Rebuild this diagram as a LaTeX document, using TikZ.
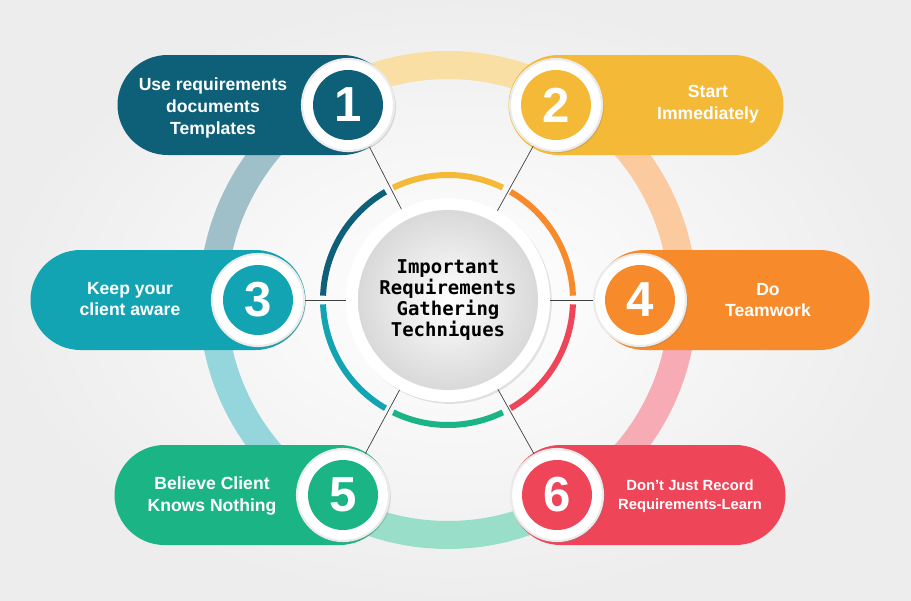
\documentclass[tikz,border=0pt]{standalone}
\usepackage{fontspec}
\setmainfont{Liberation Sans}
\newfontfamily\hubfont{DejaVu Sans Mono}
\usetikzlibrary{positioning, calc, shadings, shadows}

\definecolor{cOne}{HTML}{0E5F78}
\definecolor{cTwo}{HTML}{F4B937}
\definecolor{cThree}{HTML}{13A4B4}
\definecolor{cFour}{HTML}{F78A2A}
\definecolor{cFive}{HTML}{1BB585}
\definecolor{cSix}{HTML}{EE4558}

\tikzset{
  pill/.style={fill=#1, rounded corners=2.5cm, minimum width=13.75cm, minimum height=5cm, inner sep=0},
  numring/.style={circle, fill=white, draw=black!8, line width=3pt, minimum size=4.6cm, inner sep=0, drop shadow={opacity=.25}},
  numdot/.style={circle, fill=#1, minimum size=3.5cm, inner sep=0, text=white,
    font=\fontsize{70}{70}\selectfont\bfseries},
  label/.style={text=white, align=center, font=\fontsize{25}{31}\selectfont\bfseries},
  spoke/.style={draw=black!75, line width=1pt},
  bigring/.style={line width=1.4cm, draw=#1},
  arcpart/.style={line width=0.3cm, draw=#1}
}

\begin{document}
\begin{tikzpicture}[x=0.05cm, y=-0.05cm]
  % background
  \shade[inner color=white, outer color=black!7] (0,0) rectangle (911,600);
  \useasboundingbox (0,0) rectangle (911,600);
  \coordinate (c) at (448,300);

  % faint outer ring
  \draw[bigring=cTwo!45] ($(c)+(60:11.75cm)$) arc (60:120:11.75cm);
  \draw[bigring=cOne!40] ($(c)+(120:11.75cm)$) arc (120:180:11.75cm);
  \draw[bigring=cThree!45] ($(c)+(180:11.75cm)$) arc (180:240:11.75cm);
  \draw[bigring=cFive!45] ($(c)+(240:11.75cm)$) arc (240:300:11.75cm);
  \draw[bigring=cSix!45] ($(c)+(300:11.75cm)$) arc (300:360:11.75cm);
  \draw[bigring=cFour!45] ($(c)+(0:11.75cm)$) arc (0:60:11.75cm);

  % inner coloured arcs
  \draw[arcpart=cTwo] ($(c)+(64:6.25cm)$) arc (64:116:6.25cm);
  \draw[arcpart=cOne] ($(c)+(120:6.25cm)$) arc (120:178:6.25cm);
  \draw[arcpart=cThree] ($(c)+(182:6.25cm)$) arc (182:240:6.25cm);
  \draw[arcpart=cFive] ($(c)+(244:6.25cm)$) arc (244:296:6.25cm);
  \draw[arcpart=cSix] ($(c)+(300:6.25cm)$) arc (300:358:6.25cm);
  \draw[arcpart=cFour] ($(c)+(2:6.25cm)$) arc (2:60:6.25cm);

  % pills
  \node[pill=cOne] (p1) at (255,105) {};
  \node[pill=cTwo] (p2) at (646,105) {};
  \node[pill=cThree] (p3) at (168,300) {};
  \node[pill=cFour] (p4) at (732,300) {};
  \node[pill=cFive] (p5) at (252,495) {};
  \node[pill=cSix] (p6) at (648,495) {};

  \node[label] (t1) at (213,108) {Use requirements\\documents\\Templates};
  \node[label] (t2) at (708,104) {Start\\Immediately};
  \node[label] (t3) at (130,299) {Keep your\\client aware};
  \node[label] (t4) at (768,300) {Do\\Teamwork};
  \node[label] (t5) at (212,496) {Believe Client\\Knows Nothing};
  \node[label, font=\fontsize{21}{27}\selectfont\bfseries] (t6) at (690,496) {Don't Just Record\\Requirements-Learn};

  % centre
  \node[circle, fill=white, minimum size=10.2cm, drop shadow={opacity=.2}] (hubring) at (c) {};
  \node[circle, inner color=white, outer color=black!15, minimum size=9cm, align=center,
    font=\hubfont\fontsize{27}{29.5}\selectfont\bfseries] (hub) at (c)
    {Important\\Requirements\\Gathering\\Techniques};

  % number circles
  \node[numring] (r1) at (348,105) {};
  \node[numring] (r2) at (556,105) {};
  \node[numring] (r3) at (258,300) {};
  \node[numring] (r4) at (640,300) {};
  \node[numring] (r5) at (343,495) {};
  \node[numring] (r6) at (557,495) {};
  \node[numdot=cOne] (n1) at (r1) {1};
  \node[numdot=cTwo] (n2) at (r2) {2};
  \node[numdot=cThree] (n3) at (r3) {3};
  \node[numdot=cFour] (n4) at (r4) {4};
  \node[numdot=cFive] (n5) at (r5) {5};
  \node[numdot=cSix] (n6) at (r6) {6};

  % spokes
  \foreach \r in {r1,r2,r3,r4,r5,r6}
    \draw[spoke] (hubring) -- (\r);
\end{tikzpicture}
\end{document}
